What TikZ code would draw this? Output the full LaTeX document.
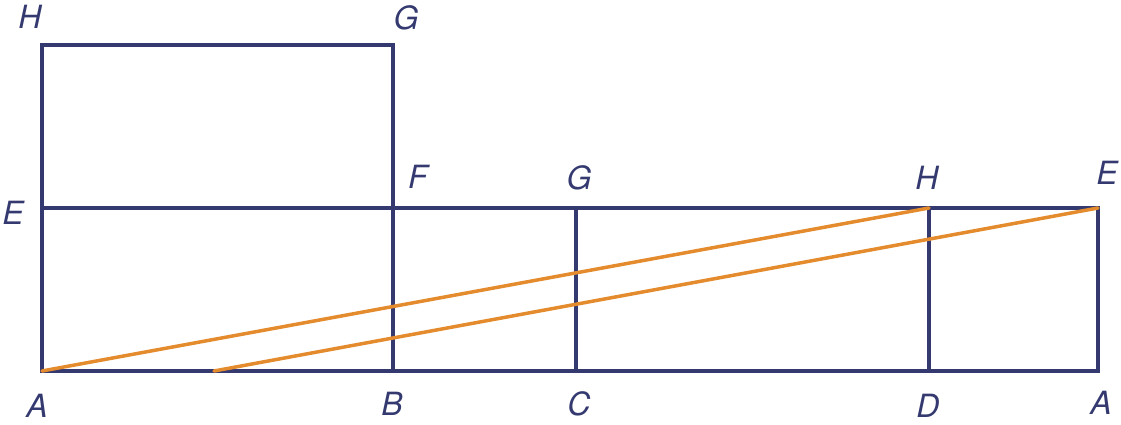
\documentclass[tikz,border=0pt]{standalone}
\usepackage{fontspec}
\setmainfont{TeX Gyre Heros}
\definecolor{navy}{RGB}{52,58,112}
\definecolor{orng}{RGB}{228,139,46}
\begin{document}
\begin{tikzpicture}[x=1pt,y=-1pt,
  navyline/.style={draw=navy,line width=3.5pt,line cap=butt,line join=miter},
  orngline/.style={draw=orng,line width=3.5pt,line cap=round},
  lbl/.style={text=navy,font=\fontsize{32}{32}\selectfont\itshape,inner sep=0pt,anchor=center}]
\useasboundingbox (0,0) rectangle (1121,425);
% points
\coordinate (A1) at (42,371);
\coordinate (B) at (393,371);
\coordinate (C) at (576,371);
\coordinate (D) at (929,371);
\coordinate (A2) at (1098,371);
\coordinate (E1) at (42,208);
\coordinate (F) at (393,208);
\coordinate (G2) at (576,208);
\coordinate (H2) at (929,208);
\coordinate (E2) at (1098,208);
\coordinate (H1) at (42,45);
\coordinate (G1) at (393,45);
\coordinate (P) at (214,371);
% navy frame
\draw[navyline] (F) -- (G1) -- (H1) -- (A1) -- (A2) -- (E2) -- (E1);
\draw[navyline] (B) -- (F);
\draw[navyline] (C) -- (G2);
\draw[navyline] (D) -- (H2);
% orange diagonals
\draw[orngline] (A1) -- (H2);
\draw[orngline] (P) -- (E2);
% labels
\node[lbl] (lH1) at (30,17) {H};
\node[lbl] (lG1) at (406,18) {G};
\node[lbl] (lE1) at (13,213) {E};
\node[lbl] (lF) at (418,177) {F};
\node[lbl] (lG2) at (579,178) {G};
\node[lbl] (lH2) at (927,178) {H};
\node[lbl] (lE2) at (1107,173) {E};
\node[lbl] (lA1) at (37,406) {A};
\node[lbl] (lB) at (392,404) {B};
\node[lbl] (lC) at (579,404) {C};
\node[lbl] (lD) at (928,406) {D};
\node[lbl] (lA2) at (1101,403) {A};
\end{tikzpicture}
\end{document}
